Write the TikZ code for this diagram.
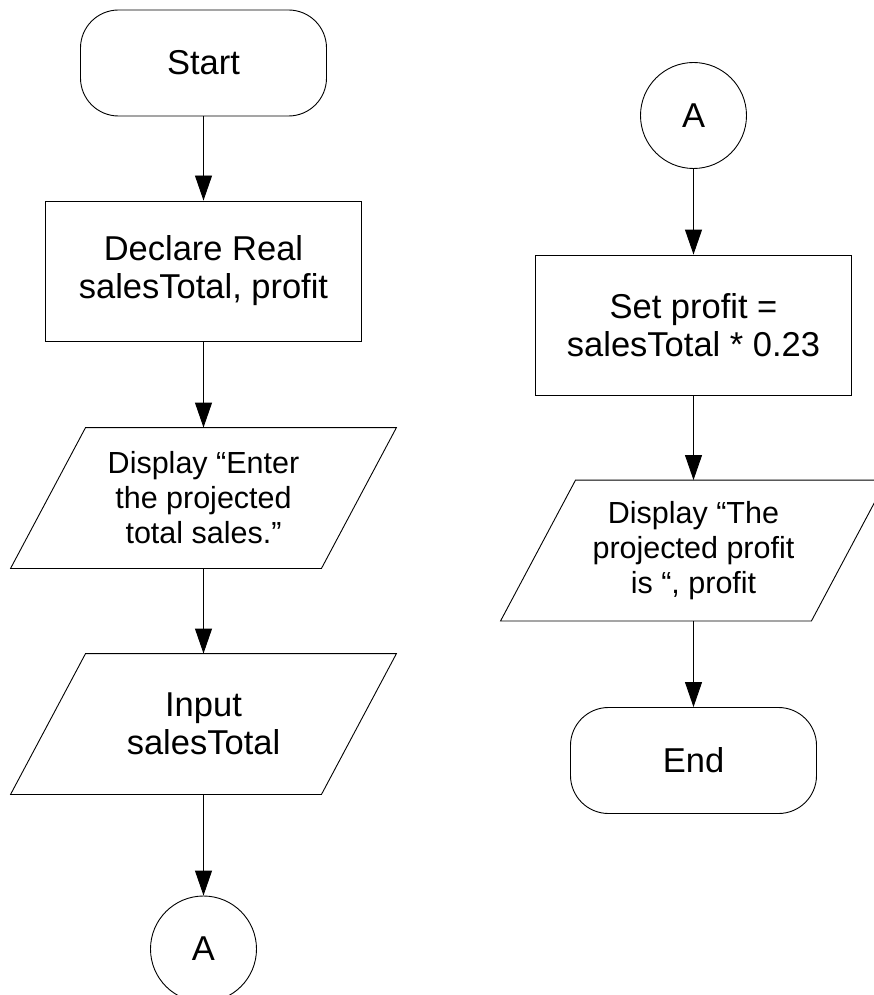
\documentclass[tikz,border=0pt]{standalone}
\usepackage{fontspec}
\setmainfont{Liberation Sans}
\usetikzlibrary{calc}
\usetikzlibrary{arrows.meta}

\tikzset{
    bigtext/.style={font=\fontsize{34.5}{38}\selectfont},
    smalltext/.style={font=\fontsize{30.5}{35}\selectfont},
    terminal/.style={draw, rounded corners=38pt, minimum width=246pt, minimum height=106pt, bigtext},
    procbox/.style={draw, minimum width=316pt, minimum height=140pt, align=center, bigtext},
    iobox/.style={minimum width=310pt, minimum height=140pt, align=center, inner sep=0pt},
    connector/.style={draw, circle, minimum size=106pt, inner sep=0pt, bigtext},
    flow/.style={-{Triangle[length=25pt, width=17pt]}},
}

\begin{document}
\begin{tikzpicture}[x=1pt, y=-1pt, line width=0.9pt]

    \useasboundingbox (0,0) rectangle (874,995);

    % left column
    \node[terminal] (start) at (203.5,63) {Start};
    \node[procbox] (decl) at (203.5,271) {Declare Real\\salesTotal, profit};
    \node[iobox, smalltext] (disp) at (203.5,498) {Display “Enter\\the projected\\total sales.”};
    \node[iobox, bigtext] (inp) at (203.5,724) {Input\\salesTotal};
    \node[connector] (conA) at (203.5,949) {A};

    % right column
    \node[connector] (conB) at (693.5,115.5) {A};
    \node[procbox] (setp) at (693.5,325) {Set profit =\\salesTotal * 0.23};
    \node[iobox, smalltext] (outp) at (693.5,550.5) {Display “The\\projected profit\\is “, profit};
    \node[terminal] (endt) at (693.5,760.5) {End};

    % parallelogram outlines round the io nodes
    \foreach \n in {disp, inp, outp} {
        \draw[] ($(\n.north west)+(37.5,0)$) -- ($(\n.north east)+(37.5,0)$)
            -- ($(\n.south east)+(-37.5,0)$) -- ($(\n.south west)+(-37.5,0)$) -- cycle;
    }

    % flow lines
    \draw[flow] (start) -- (decl);
    \draw[flow] (decl) -- (disp.north);
    \draw[flow] (disp.south) -- (inp.north);
    \draw[flow] (inp.south) -- (conA);

    \draw[flow] (conB) -- (setp);
    \draw[flow] (setp) -- (outp.north);
    \draw[flow] (outp.south) -- (endt);

\end{tikzpicture}
\end{document}
